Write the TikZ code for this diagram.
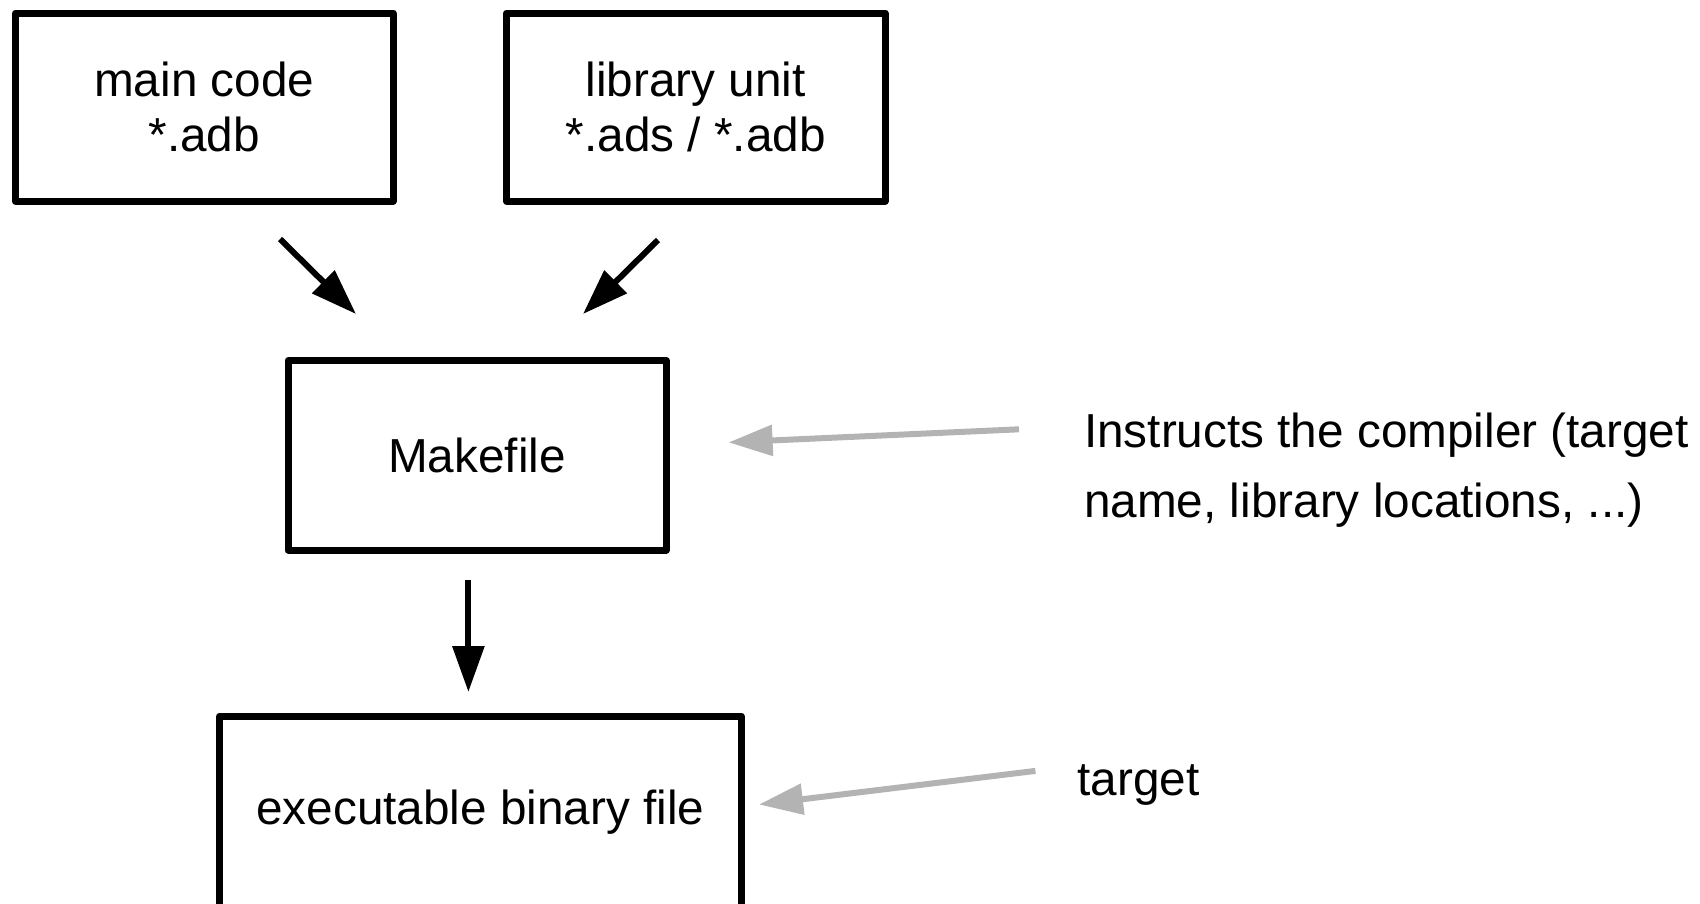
\documentclass[tikz,border=0pt]{standalone}
\usepackage{fontspec}
\setmainfont{Liberation Sans}
\usetikzlibrary{arrows.meta}
\definecolor{notegray}{RGB}{179,179,179}
\begin{document}
\begin{tikzpicture}[x=1pt,y=-1pt,
  box/.style={draw=black, line width=7pt, line join=round, rectangle, inner sep=0pt,
    align=center, font=\fontsize{47.7pt}{54.5pt}\selectfont},
  blackarrow/.style={draw=black, line width=6pt, -{Triangle[length=46pt,width=31pt]}},
  grayarrow/.style={draw=notegray, line width=6pt, -{Triangle[length=44pt,width=30pt]}},
  note/.style={inner sep=0pt, align=left, font=\fontsize{47.7pt}{69.4pt}\selectfont}]
\useasboundingbox (0,0) rectangle (1700,903);
\fill[white] (0,0) rectangle (1700,903);

\node[box, minimum width=377.5pt, minimum height=188pt] (main) at (204.25,107) {main code\\*.adb};
\node[box, minimum width=378.5pt, minimum height=188pt] (lib) at (695.75,107) {library unit\\*.ads / *.adb};
\node[box, minimum width=378pt, minimum height=189.5pt] (make) at (477,455.25) {Makefile};
\node[box, minimum width=521.3pt, minimum height=192pt] (exe) at (480.35,812) {executable binary file};

\node[note, anchor=base west] (note1) at (1084,517.2) {Instructs the compiler (target\\name, library locations, ...)};
\node[note, anchor=base west] (note2) at (1077.5,795.8) {target};

\coordinate (a1s) at (280,239);
\coordinate (a1e) at (356,314);
\coordinate (a2s) at (658,240);
\coordinate (a2e) at (583,314);
\coordinate (a3s) at (468.4,580);
\coordinate (a3e) at (468.4,692);
\coordinate (g1s) at (1019,429.3);
\coordinate (g1e) at (728.6,442.4);
\coordinate (g2s) at (1035.4,770.9);
\coordinate (g2e) at (759,804.5);

\draw[blackarrow] (a1s) -- (a1e);
\draw[blackarrow] (a2s) -- (a2e);
\draw[blackarrow] (a3s) -- (a3e);
\draw[grayarrow] (g1s) -- (g1e);
\draw[grayarrow] (g2s) -- (g2e);
\end{tikzpicture}
\end{document}
